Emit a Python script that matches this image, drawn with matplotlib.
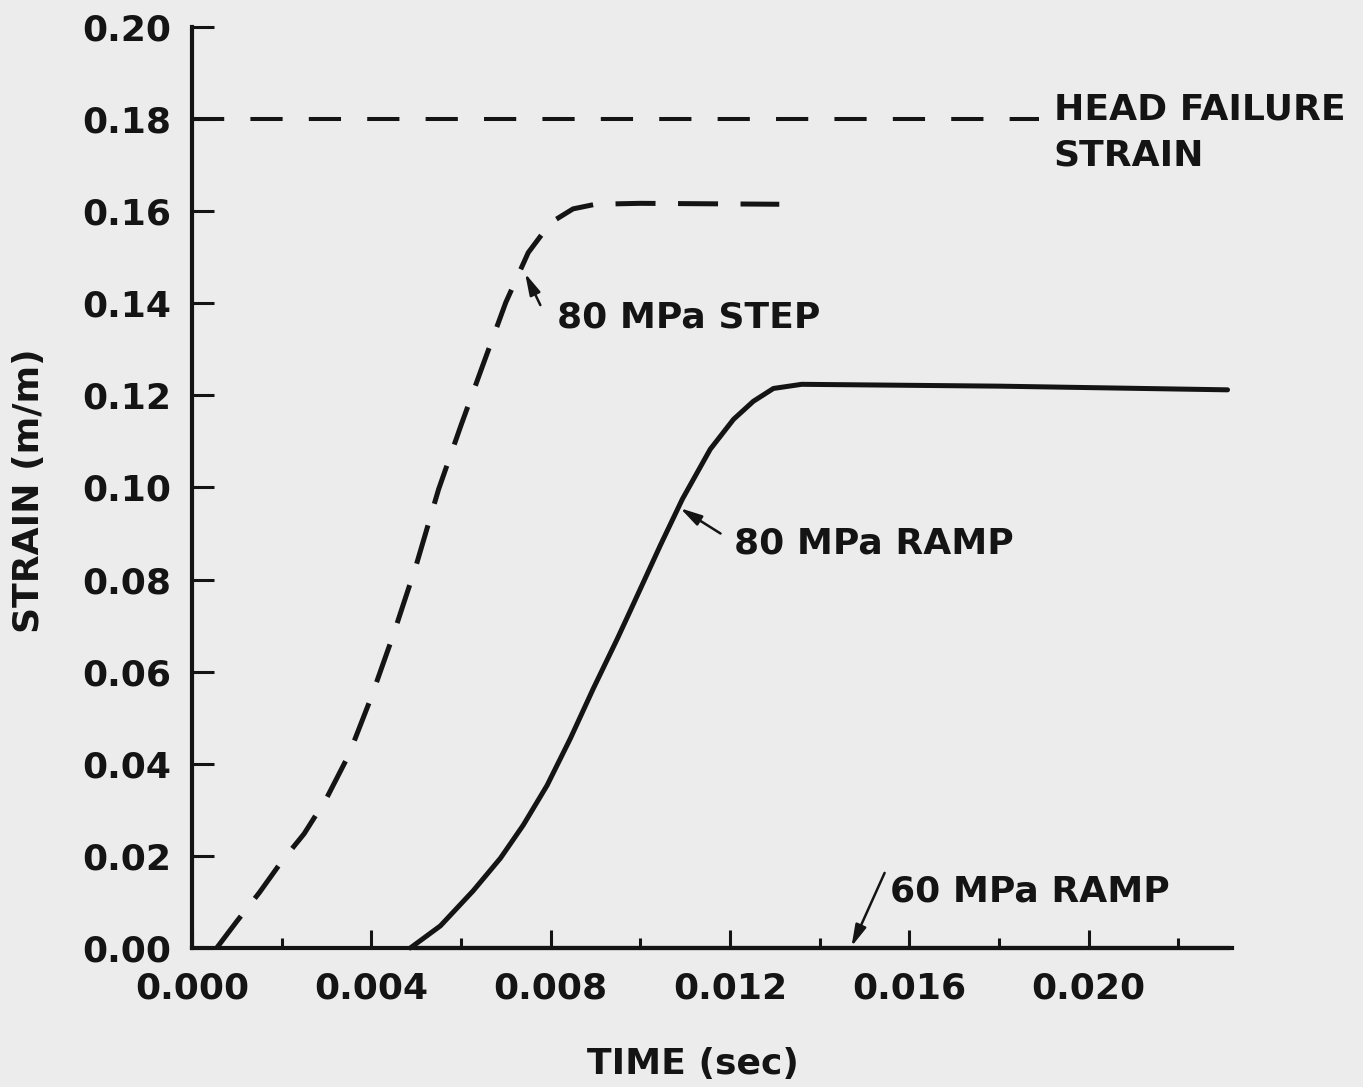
import matplotlib
matplotlib.use("Agg")
import matplotlib.pyplot as plt
from matplotlib.ticker import MultipleLocator, FormatStrFormatter

# values (time in s, strain in m/m)
step_time = [0.00055, 0.0010, 0.0015, 0.0020, 0.0025, 0.0030, 0.0035, 0.0040, 0.0045, 0.0050,
             0.0055, 0.0060, 0.0065, 0.0070, 0.0075, 0.0080, 0.0085, 0.0090, 0.0100, 0.0131]
step_strain = [0.0, 0.0058, 0.0120, 0.0188, 0.0248, 0.0325, 0.0420, 0.0545, 0.0683, 0.0831,
               0.0996, 0.1135, 0.1269, 0.1402, 0.1510, 0.1575, 0.1605, 0.1615, 0.1617, 0.1615]

ramp80_time = [0.00487, 0.00554, 0.00627, 0.00688, 0.00739, 0.00792, 0.00844, 0.00895, 0.00949, 0.00978,
               0.01045, 0.01094, 0.01156, 0.01208, 0.01252, 0.01297, 0.0136, 0.0180, 0.0231]
ramp80_strain = [0.0, 0.0048, 0.0124, 0.0195, 0.0267, 0.0353, 0.0455, 0.0563, 0.0672, 0.0733,
                 0.0875, 0.0975, 0.1083, 0.1148, 0.1187, 0.1215, 0.1224, 0.1220, 0.1212]

ramp60_time = [0.0050, 0.0231]
ramp60_strain = [0.0, 0.0]

failure_time = [0.0, 0.0189]
failure_strain = [0.18, 0.18]

ink = "#141414"
paper = "#ececec"

plt.rcParams["font.family"] = "DejaVu Sans"
plt.rcParams["font.weight"] = "bold"
plt.rcParams["axes.labelweight"] = "bold"
plt.rcParams["font.size"] = 26

figure = plt.figure(figsize=(13.63, 10.87), dpi=100, facecolor=paper)
axes = figure.add_axes([0.1409, 0.1279, 0.7630, 0.8473])
axes.set_facecolor(paper)

axes.plot(failure_time, failure_strain, color=ink, lw=2.9, dashes=(8, 6.5), clip_on=False)
axes.plot(step_time, step_strain, color=ink, lw=3.6, dashes=(8, 4.5), dash_joinstyle="round", clip_on=False)
axes.plot(ramp80_time, ramp80_strain, color=ink, lw=3.6, solid_joinstyle="round", solid_capstyle="round", clip_on=False)
axes.plot(ramp60_time, ramp60_strain, color=ink, lw=3.0, clip_on=False)

axes.set_xlim(0, 0.0232)
axes.set_ylim(0, 0.20)

for side in ["top", "right"]:
    axes.spines[side].set_visible(False)
for side in ["left", "bottom"]:
    axes.spines[side].set_linewidth(3.0)
    axes.spines[side].set_color(ink)

axes.xaxis.set_major_locator(MultipleLocator(0.004))
axes.xaxis.set_minor_locator(MultipleLocator(0.002))
axes.yaxis.set_major_locator(MultipleLocator(0.02))
axes.xaxis.set_major_formatter(FormatStrFormatter("%.3f"))
axes.yaxis.set_major_formatter(FormatStrFormatter("%.2f"))
axes.tick_params(axis="x", which="major", direction="in", length=13, width=2.2, pad=17, color=ink, labelcolor=ink)
axes.tick_params(axis="x", which="minor", direction="in", length=7.5, width=2.2, color=ink)
axes.tick_params(axis="y", which="major", direction="in", length=16, width=2.2, pad=15, color=ink, labelcolor=ink)

axes.set_xlabel("TIME (sec)", color=ink)
axes.set_ylabel("STRAIN (m/m)", color=ink)
axes.xaxis.set_label_coords(0.4817, -0.1076)
axes.yaxis.set_label_coords(-0.140, 0.497)

axes.text(0.01922, 0.1798, "HEAD FAILURE", color=ink, ha="left", va="baseline")
axes.text(0.01922, 0.1700, "STRAIN", color=ink, ha="left", va="baseline")
axes.text(0.00815, 0.1348, "80 MPa STEP", color=ink, ha="left", va="baseline")
axes.text(0.01208, 0.0857, "80 MPa RAMP", color=ink, ha="left", va="baseline")
axes.text(0.01558, 0.0102, "60 MPa RAMP", color=ink, ha="left", va="baseline")

arrow = dict(arrowstyle="-|>,head_length=0.5,head_width=0.13", lw=1.8, color=ink, shrinkA=0, shrinkB=0)
axes.annotate("", xy=(0.00743, 0.1465), xytext=(0.00777, 0.1396), arrowprops=arrow)
axes.annotate("", xy=(0.01089, 0.0955), xytext=(0.01179, 0.0900), arrowprops=arrow)
axes.annotate("", xy=(0.01471, 0.0003), xytext=(0.01545, 0.0163), arrowprops=arrow, annotation_clip=False)

figure.savefig("out.png", dpi=100, facecolor=paper)
